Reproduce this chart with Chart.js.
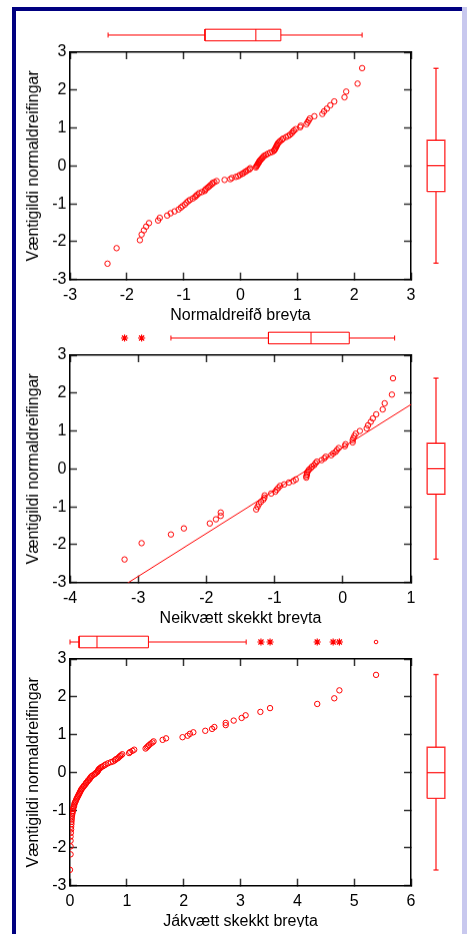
<!DOCTYPE html>
<html>
<head>
<meta charset="utf-8">
<script src="https://cdn.jsdelivr.net/npm/chart.js@4.4.1/dist/chart.umd.min.js"></script>
<style>
  html, body { margin: 0; padding: 0; background: #fff; }
  body { position: relative; width: 467px; height: 934px; overflow: hidden; }
  .frame-left  { position: absolute; left: 12px; top: 7px; width: 4px; height: 927px; background: #000080; }
  .frame-top   { position: absolute; left: 12px; top: 7px; width: 450px; height: 4px; background: #000080; }
  .frame-right { position: absolute; left: 462px; top: 7px; width: 5px; height: 927px; background: #c8c8ee; }
  .panel { position: absolute; left: 0; width: 467px; overflow: hidden; }
  canvas { position: absolute; }
</style>
</head>
<body>
<div class="frame-left"></div>
<div class="frame-top"></div>
<div class="frame-right"></div>

<script>
// Normal-probability plots of three variables, each with marginal box plots.

// ─── Data ────────────────────────────────────────────────────────────────────

// Expected normal scores (y) for the 100-point and 60-point samples
const normalScores100 = [
  -2.58, -2.17, -1.96, -1.81, -1.70, -1.60, -1.51, -1.44, -1.37, -1.31,
  -1.25, -1.20, -1.15, -1.10, -1.06, -1.02, -0.97, -0.93, -0.90, -0.86,
  -0.82, -0.79, -0.76, -0.72, -0.69, -0.66, -0.63, -0.60, -0.57, -0.54,
  -0.51, -0.48, -0.45, -0.43, -0.40, -0.37, -0.35, -0.32, -0.29, -0.27,
  -0.24, -0.21, -0.19, -0.16, -0.14, -0.11, -0.09, -0.06, -0.04, -0.01,
   0.01,  0.04,  0.06,  0.09,  0.11,  0.14,  0.16,  0.19,  0.21,  0.24,
   0.27,  0.29,  0.32,  0.35,  0.37,  0.40,  0.43,  0.45,  0.48,  0.51,
   0.54,  0.57,  0.60,  0.63,  0.66,  0.69,  0.72,  0.76,  0.79,  0.82,
   0.86,  0.90,  0.93,  0.97,  1.02,  1.06,  1.10,  1.15,  1.20,  1.25,
   1.31,  1.37,  1.44,  1.51,  1.60,  1.70,  1.81,  1.96,  2.17,  2.58,
];
const normalScores60 = [
  -2.39, -1.96, -1.73, -1.57, -1.44, -1.33, -1.24, -1.15, -1.07, -1.00,
  -0.93, -0.87, -0.81, -0.76, -0.70, -0.65, -0.60, -0.55, -0.50, -0.45,
  -0.41, -0.36, -0.32, -0.28, -0.23, -0.19, -0.15, -0.10, -0.06, -0.02,
   0.02,  0.06,  0.10,  0.15,  0.19,  0.23,  0.28,  0.32,  0.36,  0.41,
   0.45,  0.50,  0.55,  0.60,  0.65,  0.70,  0.76,  0.81,  0.87,  0.93,
   1.00,  1.07,  1.15,  1.24,  1.33,  1.44,  1.57,  1.73,  1.96,  2.39,
];

// Sorted sample values (x)
const normalValues = [
  -2.34, -2.18, -1.77, -1.74, -1.70, -1.66, -1.61, -1.45, -1.42, -1.29,
  -1.23, -1.16, -1.09, -1.05, -1.02, -0.98, -0.95, -0.92, -0.89, -0.84,
  -0.80, -0.78, -0.76, -0.73, -0.68, -0.63, -0.62, -0.60, -0.575, -0.55,
  -0.53, -0.50, -0.49, -0.46, -0.42, -0.28, -0.18, -0.15, -0.08, -0.04,
  -0.01,  0.03,  0.05,  0.08,  0.10,  0.13,  0.16,  0.17,  0.27,  0.28,
   0.29,  0.30,  0.31,  0.32,  0.33,  0.34,  0.355, 0.37,  0.385, 0.40,
   0.42,  0.45,  0.48,  0.52,  0.56,  0.59,  0.60,  0.61,  0.62,  0.63,
   0.64,  0.65,  0.66,  0.68,  0.70,  0.73,  0.75,  0.80,  0.84,  0.87,
   0.90,  0.92,  0.94,  0.97,  1.05,  1.06,  1.16,  1.18,  1.20,  1.22,
   1.30,  1.44,  1.47,  1.52,  1.58,  1.65,  1.83,  1.86,  2.06,  2.14,
];
const negSkewValues = [
  -3.20, -2.95, -2.52, -2.33, -1.95, -1.86, -1.79, -1.79, -1.27, -1.25,
  -1.23, -1.20, -1.165, -1.15, -1.146, -1.05, -0.99, -0.97, -0.945, -0.92,
  -0.86, -0.79, -0.725, -0.69, -0.535, -0.535, -0.525, -0.525, -0.51, -0.495,
  -0.47, -0.45, -0.42, -0.40, -0.38, -0.31, -0.27, -0.25, -0.17, -0.14,
  -0.105, -0.085, -0.06, 0.03,  0.04,  0.145, 0.145, 0.155, 0.17,  0.19,
   0.25,  0.35,  0.37,  0.41,  0.44,  0.49,  0.585, 0.614, 0.72,  0.736,
];
const posSkewValues = [
  0.00, 0.01, 0.01, 0.01, 0.01, 0.015, 0.02, 0.02, 0.025, 0.025,
  0.03, 0.03, 0.035, 0.04, 0.045, 0.05, 0.055, 0.06, 0.07, 0.075,
  0.08, 0.09, 0.10, 0.11, 0.12, 0.13, 0.14, 0.15, 0.16, 0.17,
  0.18, 0.19, 0.20, 0.21, 0.225, 0.24, 0.25, 0.27, 0.28, 0.29,
  0.31, 0.32, 0.34, 0.35, 0.36, 0.375, 0.39, 0.42, 0.44, 0.46,
  0.48, 0.49, 0.50, 0.51, 0.53, 0.55, 0.58, 0.61, 0.63, 0.67,
  0.72, 0.76, 0.79, 0.81, 0.84, 0.86, 0.88, 0.90, 0.92, 1.04,
  1.06, 1.10, 1.13, 1.33, 1.35, 1.37, 1.39, 1.42, 1.45, 1.47,
  1.63, 1.69, 1.98, 2.07, 2.11, 2.17, 2.38, 2.50, 2.54, 2.74,
  2.74, 2.88, 3.02, 3.09, 3.35, 3.52, 4.35, 4.65, 4.74, 5.385,
];

// Reference line in the middle plot: [intercept, slope]
const negSkewLine = [0.566, 1.134];

// Box plots: [lower whisker, Q1, median, Q3, upper whisker]
const topBox1  = [-2.33, -0.625, 0.27, 0.71, 2.14];
const topBox2  = [-2.52, -1.09, -0.466, 0.095, 0.76];
const topBox3  = [0.00, 0.16, 0.475, 1.38, 3.10];
const sideBox1 = [-2.575, -0.686, 0.0, 0.67, 2.57];
const sideBox2 = [-2.39, -0.676, 0.0, 0.67, 2.39];
const sideBox3 = [-2.57, -0.68, 0.0, 0.67, 2.59];
const starOutliers2   = [-3.20, -2.95];
const starOutliers3   = [3.36, 3.52, 4.35, 4.63, 4.74];
const circleOutliers3 = [5.385];

// Axis ranges and titles
const xRanges = [[-3, 3], [-4, 1], [0, 6]];
const yRange  = [-3, 3];
const xTitles = ["Normaldreifð breyta", "Neikvætt skekkt breyta", "Jákvætt skekkt breyta"];
const yTitle  = "Væntigildi normaldreifingar";

// ─── Layout ──────────────────────────────────────────────────────────────────

const FONT      = "'Liberation Sans', Arial, sans-serif";
const RED       = "#ff0000";
const PLOT_L    = 70;
const PLOT_R    = 411;
const PLOT_T    = 52;     // inside each panel
const PLOT_B    = 279.3;
const MAIN_H    = 324.6;  // title centre sits 9.6px above this
const panelTops = [0, 303.3, 606.7];
const panelCuts = [320.5, 320.5, 320.5];

const panels = [
  { xs: normalValues,  ys: normalScores100, top: topBox1, side: sideBox1, stars: [],             circles: [] },
  { xs: negSkewValues, ys: normalScores60,  top: topBox2, side: sideBox2, stars: starOutliers2, circles: [], line: negSkewLine },
  { xs: posSkewValues, ys: normalScores100, top: topBox3, side: sideBox3, stars: starOutliers3, circles: circleOutliers3 },
];

const NO_UI = {
  responsive: false,
  animation: false,
  devicePixelRatio: 1,
  events: [],
  plugins: { legend: { display: false }, tooltip: { enabled: false } },
};

function makeCanvas(parent, left, top, w, h) {
  const c = document.createElement("canvas");
  c.width = w; c.height = h;
  c.style.left = left + "px"; c.style.top = top + "px";
  c.style.width = w + "px"; c.style.height = h + "px";
  parent.appendChild(c);
  return c;
}

function frameAxis(axis, position, min, max, fit, extra) {
  return Object.assign({
    type: "linear", axis, position, min, max,
    ticks: { display: false, stepSize: 1 },
    grid: { drawOnChartArea: false, tickLength: -7, tickColor: "#333", tickWidth: 1.5 },
    border: { display: true, color: "#000", width: 1.5 },
    afterFit: fit,
  }, extra || {});
}

function mainChart(parent, p, k) {
  const [xmin, xmax] = xRanges[k];
  const datasets = [{
    data: p.xs.map((x, i) => ({ x, y: p.ys[i] })),
    pointStyle: "circle", pointRadius: 2.7, borderColor: RED, borderWidth: 1,
    backgroundColor: "rgba(0,0,0,0)", showLine: false,
  }];
  if (p.line) {
    const [a, b] = p.line;
    datasets.push({
      data: [{ x: xmin, y: a + b * xmin }, { x: xmax, y: a + b * xmax }],
      showLine: true, pointRadius: 0, borderColor: RED, borderWidth: 1,
    });
  }
  const tickFont = { family: FONT, size: 16 };
  new Chart(makeCanvas(parent, 0, 0, 467, MAIN_H), {
    type: "scatter",
    data: { datasets },
    options: Object.assign({}, NO_UI, {
      layout: { autoPadding: false, padding: { left: 0, top: PLOT_T, right: 467 - PLOT_R, bottom: 0 } },
      scales: {
        x: frameAxis("x", "bottom", xmin, xmax, (s) => { s.height = MAIN_H - PLOT_B; }, {
          ticks: { display: true, stepSize: 1, padding: 13.5, color: "#000", font: tickFont },
          title: { display: true, text: xTitles[k], color: "#000", font: tickFont, padding: 0 },
        }),
        x2: frameAxis("x", "top", xmin, xmax, (s) => { s.height = 0; }),
        y: frameAxis("y", "left", yRange[0], yRange[1], (s) => { s.width = PLOT_L; }, {
          ticks: { display: true, stepSize: 1, padding: 10.5, color: "#000", font: tickFont },
          title: { display: true, text: yTitle, color: "#000", font: tickFont, padding: { top: 24, bottom: 0 } },
        }),
        y2: frameAxis("y", "right", yRange[0], yRange[1], (s) => { s.width = 0; }),
      },
    }),
  });
}

// A box plot as line segments; horizontal boxes lie along x, vertical along y
function boxDatasets(stats, horizontal, half, cap, color, width) {
  const [lo, q1, med, q3, hi] = stats;
  const pt  = (v, o) => (horizontal ? { x: v, y: o } : { x: o, y: v });
  const seg = (pts) => ({ data: pts, showLine: true, pointRadius: 0, borderColor: color, borderWidth: width, clip: false });
  return [
    seg([pt(lo, 0), pt(q1, 0)]),
    seg([pt(q3, 0), pt(hi, 0)]),
    seg([pt(lo, -cap), pt(lo, cap)]),
    seg([pt(hi, -cap), pt(hi, cap)]),
    seg([pt(q1, -half), pt(q3, -half), pt(q3, half), pt(q1, half), pt(q1, -half)]),
    seg([pt(med, -half), pt(med, half)]),
  ];
}

function topBoxChart(parent, p, k) {
  const [xmin, xmax] = xRanges[k];
  const datasets = boxDatasets(p.top, true, 0.58, 0.25, RED, 1);
  datasets.push({
    data: p.stars.map((x) => ({ x, y: 0 })),
    pointStyle: "star", pointRadius: 3.6, borderColor: RED, borderWidth: 1.2, clip: false,
  });
  datasets.push({
    data: p.circles.map((x) => ({ x, y: 0 })),
    pointStyle: "circle", pointRadius: 1.8, borderColor: RED, borderWidth: 1,
    backgroundColor: "rgba(0,0,0,0)", clip: false,
  });
  new Chart(makeCanvas(parent, 0, 25, 467, 20), {
    type: "scatter",
    data: { datasets },
    options: Object.assign({}, NO_UI, {
      layout: { autoPadding: false, padding: { left: PLOT_L, right: 467 - PLOT_R, top: 0, bottom: 0 } },
      scales: {
        x: { type: "linear", display: false, min: xmin, max: xmax },
        y: { type: "linear", display: false, min: -1, max: 1 },
      },
    }),
  });
}

function sideBoxChart(parent, p) {
  const h = 300;
  new Chart(makeCanvas(parent, 421, 0, 30, h), {
    type: "scatter",
    data: { datasets: boxDatasets(p.side, false, 0.59, 0.17, "rgba(255,0,0,0.8)", 1.4) },
    options: Object.assign({}, NO_UI, {
      layout: { autoPadding: false, padding: { left: 0, right: 0, top: PLOT_T, bottom: h - PLOT_B } },
      scales: {
        x: { type: "linear", display: false, min: -1, max: 1 },
        y: { type: "linear", display: false, min: yRange[0], max: yRange[1] },
      },
    }),
  });
}

panels.forEach((p, k) => {
  const wrap = document.createElement("div");
  wrap.className = "panel";
  wrap.style.top = panelTops[k] + "px";
  wrap.style.height = panelCuts[k] + "px";
  document.body.appendChild(wrap);
  mainChart(wrap, p, k);
  topBoxChart(wrap, p, k);
  sideBoxChart(wrap, p);
});
</script>
</body>
</html>
